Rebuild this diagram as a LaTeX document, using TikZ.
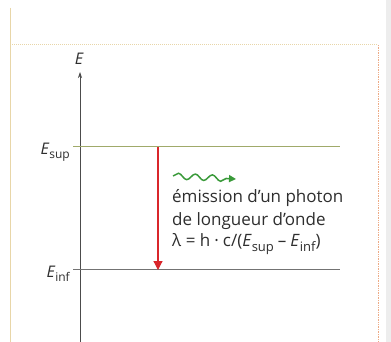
\documentclass[tikz,border=0pt]{standalone}
\usepackage{fontspec}
\setmainfont{Open Sans}
\usetikzlibrary{decorations.pathmorphing,arrows.meta}
\definecolor{frame}{HTML}{E8D6A8}
\definecolor{olive}{HTML}{A0AA6A}
\definecolor{txt}{HTML}{2E2E2E}
\definecolor{wavegreen}{HTML}{3A9A3A}
\definecolor{redarrow}{HTML}{D9262B}
\tikzset{
  lvl/.style={line width=1pt},
  lbl/.style={text=txt,inner sep=0pt},
  body/.style={text=txt,font=\fontsize{17}{19}\selectfont,inner sep=0pt,anchor=west},
}
\begin{document}
\begin{tikzpicture}[x=1pt,y=-1pt]
\useasboundingbox (0,0) rectangle (391,342);
\fill[white] (0,0) rectangle (391,342);
\fill[black!7] (386,0) rectangle (391,342);
% frame
\draw[frame,line width=1pt] (10,8) -- (10,342);
\draw[frame,line width=1pt,densely dotted] (10,45) -- (378,45);
\draw[frame!80!red,line width=0.7pt,densely dotted] (378,45) -- (378,342);
% axis
\coordinate (ab) at (80,342);
\coordinate (at) at (80,72);
\draw[black!70,line width=0.7pt,-{Stealth[length=6pt,width=4pt]}] (ab) -- (at);
\node[lbl,font=\fontsize{16}{18}\selectfont\itshape] (E) at (79,59) {E};
% levels
\coordinate (s1) at (73,147); \coordinate (s2) at (340,147);
\coordinate (i1) at (73,269); \coordinate (i2) at (340,269);
\draw[olive,lvl] (s1) -- (s2);
\draw[black!55,lvl] (i1) -- (i2);
\node[lbl,anchor=east] (Esup) at (70,152) {\fontsize{16}{18}\selectfont\itshape E\kern0.5pt\raisebox{-3.5pt}{\upshape\fontsize{12}{14}\selectfont sup}};
\node[lbl,anchor=east] (Einf) at (70,274) {\fontsize{16}{18}\selectfont\itshape E\kern0.5pt\raisebox{-3.5pt}{\upshape\fontsize{12}{14}\selectfont inf}};
% red arrow
\coordinate (r1) at (158,147); \coordinate (r2) at (158,270);
\draw[redarrow,line width=1.2pt,-{Triangle[length=9pt,width=9pt]}] (r1) -- (r2);
% wave
\coordinate (w1) at (173,176); \coordinate (w2) at (236,179);
\draw[wavegreen,line width=1.5pt,decorate,decoration={snake,amplitude=3pt,segment length=17pt,post length=7pt},-{Triangle[length=7pt,width=7pt]}] (w1) -- (w2);
% text
\node[body] (t1) at (172,198) {émission d’un photon};
\node[body] (t2) at (172,221) {de longueur d’onde};
\node[body] (t3) at (172,244) {λ\kern4.5pt=\kern4.5pt h\kern4pt·\kern4pt c/(\textit{E}\raisebox{-4.5pt}{\fontsize{13}{14}\selectfont sup}\kern4pt–\kern4pt\textit{E}\raisebox{-4.5pt}{\fontsize{13}{14}\selectfont inf})};
\end{tikzpicture}
\end{document}
